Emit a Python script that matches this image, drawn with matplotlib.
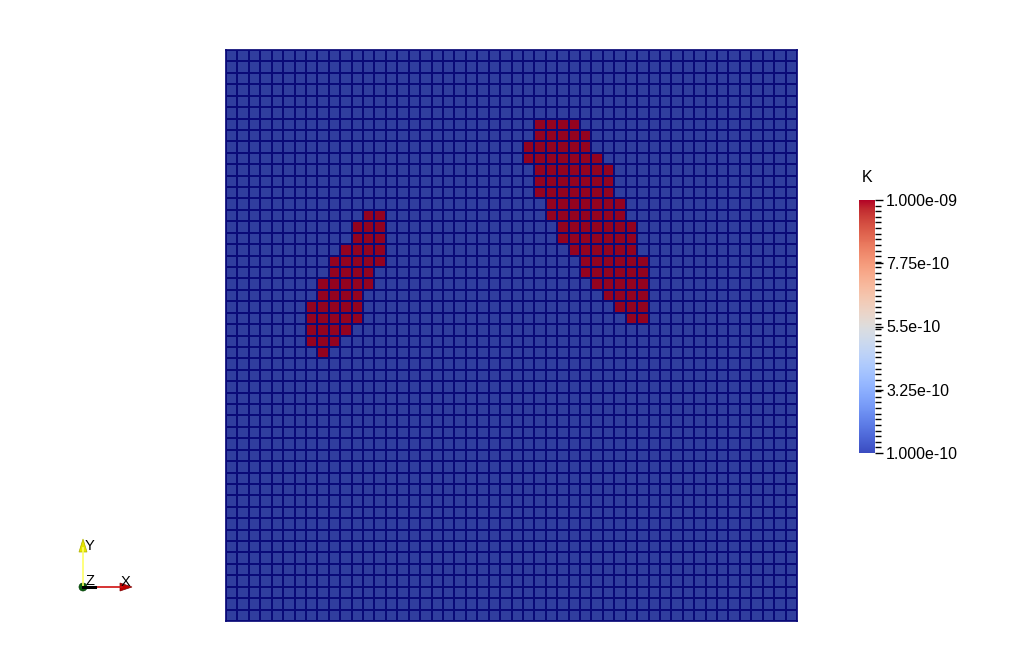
import matplotlib
matplotlib.use("Agg")
import matplotlib.pyplot as plt
import numpy as np
from matplotlib.colors import ListedColormap, Normalize
from matplotlib.cm import ScalarMappable
from matplotlib.patches import Polygon, Circle

# mesh size and permeability values
n_cells = 50
k_low = 1.0e-10
k_high = 1.0e-09

# high permeability cells, one run of columns per row (row 0 = top)
right_rows = list(range(6, 24))
right_start = [27, 27, 26, 26, 27, 27, 27, 28, 28, 29, 29, 30, 31, 31, 32, 33, 34, 35]
right_end = [30, 31, 31, 32, 33, 33, 33, 34, 34, 35, 35, 35, 36, 36, 36, 36, 36, 36]

left_rows = list(range(14, 27))
left_start = [12, 11, 11, 10, 9, 9, 8, 8, 7, 7, 7, 7, 8]
left_end = [13, 13, 13, 13, 13, 12, 12, 11, 11, 11, 10, 9, 8]

cbar_ticks = [1.0e-10, 3.25e-10, 5.5e-10, 7.75e-10, 1.0e-09]
cbar_labels = ["1.000e-10", "3.25e-10", "5.5e-10", "7.75e-10", "1.000e-09"]

K = np.full((n_cells, n_cells), k_low)
for rows, st, en in [(right_rows, right_start, right_end), (left_rows, left_start, left_end)]:
    for r, a, b in zip(rows, st, en):
        K[r, a:b + 1] = k_high

plt.rcParams['font.family'] = ['Liberation Sans', 'DejaVu Sans']

W, H = 1024, 672
fig = plt.figure(figsize=(W / 100, H / 100), dpi=100)

# shaded version of the cool-warm map for the lit surface
base = plt.get_cmap('coolwarm')
shaded = ListedColormap(base(np.linspace(0, 1, 256))[:, :3] * 0.82)
norm = Normalize(vmin=k_low, vmax=k_high)

ax = fig.add_axes([226 / W, (H - 621) / H, 571 / W, 571 / H])
edges = np.arange(n_cells + 1)
ax.pcolormesh(edges, edges, K, cmap=shaded, norm=norm,
              edgecolors='#0a0a78', linewidth=1.25)
ax.set_xlim(0, n_cells)
ax.set_ylim(n_cells, 0)
ax.set_xticks([])
ax.set_yticks([])
for s in ax.spines.values():
    s.set_color('#0a0a78')
    s.set_linewidth(1.25)

# colour legend
cax = fig.add_axes([859 / W, (H - 453) / H, 16 / W, 253 / H])
sm = ScalarMappable(norm=norm, cmap=base)
cb = fig.colorbar(sm, cax=cax)
cb.outline.set_visible(False)
cb.set_ticks(cbar_ticks)
cb.set_ticklabels(cbar_labels)
cax.set_yticks(np.arange(1.0e-10, 1.0001e-09, 2.0e-11), minor=True)
cax.tick_params(which='major', length=6, width=1, direction='out', labelsize=11.5, pad=2)
cax.tick_params(which='minor', length=4, width=1, direction='out')
fig.text(862 / W, 1 - 177 / H, "K", fontsize=11.5, va='center', ha='left')

# orientation axes glyph
ov = fig.add_axes([0, 0, 1, 1])
ov.set_xlim(0, W)
ov.set_ylim(H, 0)
ov.axis('off')
ox, oy = 83, 587
ov.plot([ox, ox], [oy, 548], color='#ffff66', lw=1.2)
ov.add_patch(Polygon([[ox - 4, 552], [ox + 4, 552], [ox, 539]], closed=True,
                     facecolor='#e6e600', edgecolor='#b0b000', lw=0.5))
ov.plot([ox, 122], [oy, oy], color='#d01010', lw=1.2)
ov.plot([ox, 95], [oy, oy], color='black', lw=2.2)
ov.add_patch(Polygon([[120, oy - 4], [120, oy + 4], [132, oy]], closed=True,
                     facecolor='#c00000', edgecolor='#800000', lw=0.5))
ov.add_patch(Circle((ox, oy), 4, facecolor='#0a6010', edgecolor='#044008', lw=0.5))
ov.text(85, 546, "Y", fontsize=10.5, va='center', ha='left')
ov.text(121, 582, "X", fontsize=10.5, va='center', ha='left')
ov.text(86, 581, "Z", fontsize=10.5, va='center', ha='left')

fig.savefig("out.png", dpi=100)
